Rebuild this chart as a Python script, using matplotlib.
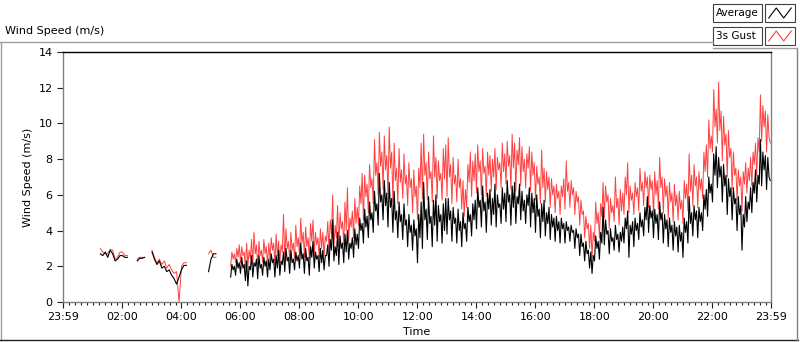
import matplotlib
matplotlib.use("Agg")
import matplotlib.pyplot as plt
from matplotlib.ticker import FixedLocator, MultipleLocator
from matplotlib.patches import Rectangle
from matplotlib.lines import Line2D
import numpy as np

nan = np.nan

# night: 5-minute samples, 00:00 .. 05:35, one row per hour
night_average = [
    nan, nan, nan, nan, nan, nan, nan, nan, nan, nan, nan, nan,
    nan, nan, nan, 2.7, 2.6, 2.8, 2.5, 2.9, 2.7, 2.3, 2.4, 2.6,
    2.6, 2.5, 2.5, nan, nan, nan, 2.3, 2.45, 2.45, 2.5, nan, nan,
    2.8, 2.4, 2.1, 2.3, 1.9, 2.0, 1.7, 1.8, 1.5, 1.3, 1.0, 1.4,
    1.8, 2.05, 2.05, nan, nan, nan, nan, nan, nan, nan, nan, 1.7,
    2.4, 2.7, 2.7, nan, nan, nan, nan, nan,
]
night_gust = [
    nan, nan, nan, nan, nan, nan, nan, nan, nan, nan, nan, nan,
    nan, nan, nan, 3.0, 2.8, 2.7, 2.7, 2.95, 2.9, 2.4, 2.5, 2.8,
    2.8, 2.6, 2.6, nan, nan, nan, 2.4, 2.5, 2.5, 2.5, nan, nan,
    2.9, 2.5, 2.2, 2.4, 2.1, 2.3, 1.9, 2.1, 1.8, 1.6, 1.7, 0.0,
    2.0, 2.2, 2.2, nan, nan, nan, nan, nan, nan, nan, nan, 2.7,
    2.9, 2.5, 2.5, nan, nan, nan, nan, nan,
]

# day: 2.5-minute samples, 05:40 .. 23:57.5, one row per hour from 06:00
day_average = [
    1.4, 2.1, 1.8, 2.0, 1.5, 2.4, 1.9, 2.2,
    1.6, 2.5, 1.9, 2.1, 1.2, 2.3, 0.9, 2.0, 1.8, 2.6, 1.4, 2.2, 2.0, 2.4, 1.3, 2.6, 1.9, 2.1, 1.5, 2.5, 2.0, 2.3, 1.4, 2.4,
    1.8, 2.7, 2.2, 2.4, 1.4, 2.6, 1.9, 2.9, 1.5, 2.3, 2.1, 2.8, 1.7, 3.0, 2.3, 2.5, 1.6, 2.9, 2.2, 2.4, 1.8, 2.8, 2.3, 2.6,
    1.9, 3.3, 2.4, 2.7, 1.6, 3.0, 2.3, 2.5, 1.5, 3.1, 2.5, 3.4, 1.9, 2.8, 2.4, 2.6, 1.7, 3.0, 2.2, 2.9, 1.8, 2.6, 2.6, 3.2,
    2.0, 3.5, 2.9, 4.6, 2.3, 3.1, 2.6, 3.9, 2.1, 3.7, 3.0, 3.3, 2.2, 3.8, 2.8, 4.0, 2.4, 3.3, 3.0, 3.6, 2.5, 4.1, 3.2, 3.8,
    3.0, 4.7, 4.0, 4.4, 3.3, 5.2, 4.2, 4.8, 3.6, 5.6, 4.6, 5.0, 3.9, 6.2, 5.1, 5.5, 4.3, 7.2, 5.6, 6.0, 4.6, 6.8, 5.4, 6.1,
    4.2, 6.7, 5.3, 5.8, 3.9, 6.2, 4.6, 5.1, 3.6, 5.6, 4.5, 4.9, 3.5, 5.5, 4.3, 4.6, 3.1, 4.9, 3.9, 4.3, 2.9, 4.6, 3.7, 4.1,
    2.2, 4.9, 3.6, 5.6, 3.0, 6.7, 4.6, 5.2, 3.5, 5.9, 4.4, 4.8, 3.1, 5.7, 4.3, 6.0, 3.4, 5.4, 4.5, 4.9, 3.3, 5.5, 4.0, 5.8,
    3.8, 5.8, 4.6, 5.1, 3.4, 5.3, 4.4, 4.7, 3.3, 5.2, 4.0, 4.5, 3.1, 5.0, 4.1, 4.4, 3.4, 5.3, 4.5, 4.9, 3.7, 5.5, 4.6, 5.7,
    4.1, 6.4, 5.3, 5.7, 4.2, 6.5, 5.1, 5.6, 3.9, 6.1, 5.2, 6.3, 4.3, 5.8, 4.9, 6.6, 4.2, 6.0, 5.3, 5.5, 4.4, 6.4, 5.2, 6.1,
    4.5, 6.8, 5.6, 6.0, 4.3, 6.5, 5.3, 6.7, 4.4, 5.9, 5.5, 6.6, 4.6, 6.2, 5.1, 5.7, 4.4, 6.0, 5.4, 6.4, 4.2, 6.1, 5.0, 5.8,
    3.9, 6.0, 4.8, 5.2, 3.6, 5.5, 4.5, 5.7, 3.7, 5.0, 4.4, 5.3, 3.5, 4.9, 4.2, 4.7, 3.4, 4.8, 4.0, 4.5, 3.3, 4.7, 4.1, 4.4,
    3.3, 4.5, 4.0, 4.2, 3.4, 4.3, 3.9, 4.0, 3.0, 4.1, 3.6, 3.8, 2.6, 3.8, 3.1, 3.3, 2.3, 3.4, 2.7, 2.9, 1.9, 2.8, 1.6, 2.6,
    2.3, 3.7, 3.0, 3.4, 2.4, 3.9, 3.3, 5.3, 3.2, 4.6, 3.8, 4.0, 2.7, 4.1, 3.4, 3.6, 2.9, 4.3, 3.5, 3.8, 2.8, 3.9, 3.4, 4.2,
    3.3, 4.7, 4.1, 5.1, 2.5, 4.3, 3.8, 4.5, 3.1, 4.7, 4.0, 4.4, 3.5, 5.0, 4.2, 4.6, 3.7, 5.3, 4.6, 5.9, 3.9, 5.4, 4.7, 5.1,
    3.6, 5.2, 4.4, 4.9, 3.5, 5.6, 4.6, 5.0, 3.3, 4.9, 4.1, 4.6, 3.1, 4.7, 3.9, 4.3, 2.9, 4.5, 3.7, 4.2, 2.8, 4.3, 3.4, 3.9,
    2.5, 4.7, 3.9, 4.5, 3.3, 5.9, 4.4, 5.0, 3.7, 5.4, 4.6, 5.1, 3.6, 5.3, 4.5, 5.0, 4.0, 6.0, 5.2, 6.3, 4.8, 7.0, 6.1, 6.6,
    5.6, 8.3, 7.1, 8.7, 6.4, 8.1, 7.0, 7.6, 5.6, 7.7, 6.5, 7.1, 4.9, 6.9, 5.9, 6.4, 4.6, 6.4, 5.5, 5.8, 4.0, 5.9, 4.9, 5.4,
    2.9, 4.9, 4.2, 5.9, 4.5, 5.6, 5.2, 6.4, 5.0, 6.7, 6.1, 7.4, 5.6, 7.1, 6.6, 9.1, 6.5, 8.4, 7.4, 8.2, 6.3, 8.1, 7.0, 6.8,
]
day_gust = [
    2.0, 2.8, 2.4, 2.7, 2.2, 3.0, 2.5, 3.2,
    2.2, 3.1, 2.6, 2.8, 1.9, 3.3, 2.0, 2.9, 2.4, 3.5, 2.1, 3.9, 2.7, 3.2, 2.0, 3.4, 2.6, 2.9, 2.2, 3.5, 2.7, 3.1, 2.1, 3.3,
    2.4, 3.6, 2.9, 3.3, 2.1, 3.8, 2.6, 3.4, 2.2, 3.2, 2.8, 4.9, 2.4, 4.1, 3.0, 3.4, 2.3, 3.9, 2.9, 3.3, 2.4, 4.3, 3.1, 3.6,
    2.6, 4.7, 3.3, 3.9, 2.5, 4.2, 3.1, 3.6, 2.4, 4.4, 3.4, 4.6, 2.6, 3.9, 3.2, 3.6, 2.5, 4.1, 3.0, 3.9, 2.6, 3.7, 3.4, 4.5,
    2.9, 4.6, 3.8, 6.0, 3.0, 4.3, 3.6, 5.4, 3.1, 5.0, 4.1, 4.5, 3.2, 5.6, 4.0, 6.4, 3.4, 4.7, 4.2, 5.1, 3.6, 5.8, 4.4, 5.3,
    4.3, 6.5, 5.5, 7.2, 4.6, 7.1, 5.9, 6.6, 5.0, 7.7, 6.4, 6.9, 5.5, 9.1, 7.1, 7.8, 6.0, 9.5, 7.6, 8.4, 6.3, 9.3, 7.4, 8.2,
    6.0, 9.8, 7.5, 8.4, 5.6, 8.9, 6.8, 7.5, 5.5, 8.6, 6.7, 7.4, 5.8, 8.3, 6.6, 7.1, 5.4, 7.8, 6.4, 6.9, 5.0, 7.4, 5.9, 6.5,
    4.6, 7.5, 6.4, 8.9, 5.8, 9.4, 7.1, 7.8, 5.7, 8.4, 6.9, 7.3, 5.6, 9.3, 7.0, 8.1, 5.8, 7.9, 6.8, 7.2, 5.7, 8.6, 6.9, 8.8,
    5.9, 9.2, 7.0, 7.7, 5.5, 8.1, 6.6, 7.1, 5.6, 8.0, 6.4, 6.9, 5.2, 6.8, 4.8, 6.3, 5.3, 7.7, 6.7, 8.4, 5.9, 7.9, 6.8, 8.3,
    6.1, 8.8, 7.3, 7.9, 6.0, 8.6, 7.2, 7.6, 5.9, 8.4, 7.1, 8.2, 6.2, 8.0, 7.0, 8.6, 6.3, 8.1, 7.4, 7.8, 6.4, 8.9, 7.3, 8.3,
    6.6, 9.0, 7.6, 8.2, 6.3, 9.4, 7.5, 8.9, 6.2, 8.5, 7.7, 9.2, 6.5, 8.7, 7.3, 8.0, 6.4, 8.3, 7.5, 8.7, 6.2, 8.4, 7.1, 7.8,
    5.7, 7.6, 6.6, 7.0, 5.5, 8.5, 6.4, 7.5, 5.6, 7.3, 6.3, 7.0, 5.3, 6.9, 6.0, 6.5, 5.0, 6.6, 5.8, 6.2, 4.9, 6.5, 5.9, 6.9,
    5.2, 7.9, 6.2, 6.7, 5.3, 6.8, 6.0, 6.4, 4.9, 6.2, 5.6, 5.9, 4.3, 5.7, 4.9, 5.1, 3.6, 4.8, 4.1, 4.4, 3.0, 4.3, 2.5, 3.9,
    3.4, 5.6, 4.4, 5.0, 3.6, 5.5, 4.8, 6.7, 4.7, 6.5, 5.6, 6.0, 4.1, 5.8, 5.0, 5.4, 4.5, 7.0, 5.3, 5.8, 4.3, 6.3, 5.1, 6.1,
    4.9, 7.0, 6.0, 7.8, 5.0, 6.5, 5.7, 6.1, 4.9, 6.7, 5.9, 6.4, 5.1, 7.5, 6.2, 6.7, 5.4, 7.3, 6.4, 7.0, 5.3, 7.1, 6.3, 6.8,
    4.8, 7.3, 6.0, 6.8, 5.2, 8.1, 6.4, 7.0, 5.0, 6.9, 5.9, 6.5, 4.7, 6.7, 5.6, 6.1, 4.5, 6.6, 5.4, 6.0, 4.6, 6.2, 5.2, 5.7,
    4.4, 6.8, 5.8, 6.6, 5.1, 8.3, 6.2, 7.1, 5.4, 7.7, 6.5, 7.0, 5.3, 7.3, 6.3, 6.9, 5.8, 8.4, 7.3, 8.8, 7.0, 10.2, 8.6, 9.3,
    8.4, 11.9, 9.8, 10.8, 8.9, 12.3, 9.6, 10.7, 7.9, 10.4, 8.8, 9.4, 7.0, 9.6, 8.1, 8.6, 6.3, 8.4, 7.1, 7.5, 5.7, 7.4, 6.5, 7.0,
    5.1, 7.3, 6.6, 7.8, 6.1, 7.5, 6.8, 8.1, 6.5, 8.4, 7.7, 8.9, 7.1, 9.2, 8.4, 11.6, 9.0, 11.0, 9.8, 10.7, 8.4, 10.5, 9.2, 8.9,
]

night_hours = np.arange(len(night_average)) * 5 / 60.0
day_hours = 5 + 40 / 60 + np.arange(len(day_average)) * 2.5 / 60.0
tick_hours = [-1 / 60, 2, 4, 6, 8, 10, 12, 14, 16, 18, 20, 22, 24 - 1 / 60]
tick_labels = ["23:59", "02:00", "04:00", "06:00", "08:00", "10:00", "12:00",
               "14:00", "16:00", "18:00", "20:00", "22:00", "23:59"]
series_names = ["Average", "3s Gust"]
series_colors = ["black", "#ff4040"]

fig = plt.figure(figsize=(8, 3.42), dpi=100)
W, H = 800, 342


def fx(px):
    return px / W


def fy(py):
    return 1 - py / H


# panel frame
fig.add_artist(Line2D([0, fx(713)], [fy(42), fy(42)], color="#a0a0a0", lw=1))
fig.add_artist(Line2D([fx(0.5), fx(0.5)], [fy(42), fy(340)], color="#a0a0a0", lw=1))
fig.add_artist(Line2D([0, fx(798)], [fy(340), fy(340)], color="#202020", lw=1))
fig.add_artist(Line2D([fx(797), fx(797)], [fy(48), fy(340)], color="#808080", lw=1))
fig.add_artist(Line2D([fx(713), fx(797)], [fy(48), fy(48)], color="#a0a0a0", lw=1))
fig.text(fx(5), fy(31), "Wind Speed (m/s)", fontsize=8, va="center", ha="left")

# legend boxes
for i, (name, col) in enumerate(zip(series_names, series_colors)):
    top = 4 + i * 23
    fig.add_artist(Rectangle((fx(713), fy(top + 18)), fx(49), 18 / H,
                             fill=False, ec="#404040", lw=0.8))
    fig.text(fx(716), fy(top + 9), name, fontsize=7.5, va="center", ha="left")
    fig.add_artist(Rectangle((fx(765), fy(top + 18)), fx(30), 18 / H,
                             fill=False, ec="#404040", lw=0.8))
    ix = fig.add_axes([fx(768), fy(top + 15), fx(24), 12 / H])
    ix.plot([0, 1, 2, 3], [0, 1, 0, 1], color=col, lw=0.8)
    ix.set_xlim(-0.1, 3.1)
    ix.set_ylim(-0.1, 1.1)
    ix.axis("off")

ax = fig.add_axes([fx(63), fy(302), fx(708), 250 / H])
for hrs, g in ((night_hours, night_gust), (day_hours, day_gust)):
    ax.plot(hrs, g, color=series_colors[1], lw=0.7)
for hrs, a in ((night_hours, night_average), (day_hours, day_average)):
    ax.plot(hrs, a, color=series_colors[0], lw=0.8)

ax.set_xlim(-1 / 60, 24 - 1 / 60)
ax.set_ylim(0, 14)
ax.xaxis.set_major_locator(FixedLocator(tick_hours))
ax.set_xticklabels(tick_labels)
ax.xaxis.set_minor_locator(MultipleLocator(0.2))
ax.yaxis.set_major_locator(MultipleLocator(2))
ax.tick_params(axis="both", which="major", labelsize=8, length=4, width=0.8,
               color="#202020")
ax.tick_params(axis="x", which="minor", length=2.5, width=0.8, color="#202020")
ax.set_xlabel("Time", fontsize=8, labelpad=3)
ax.set_ylabel("Wind Speed (m/s)", fontsize=8, labelpad=4)

ax.spines["top"].set_color("black")
ax.spines["left"].set_color("#808080")
ax.spines["bottom"].set_color("#808080")
ax.spines["right"].set_color("#808080")
for s in ax.spines.values():
    s.set_linewidth(1)

fig.savefig("out.png", dpi=100)
